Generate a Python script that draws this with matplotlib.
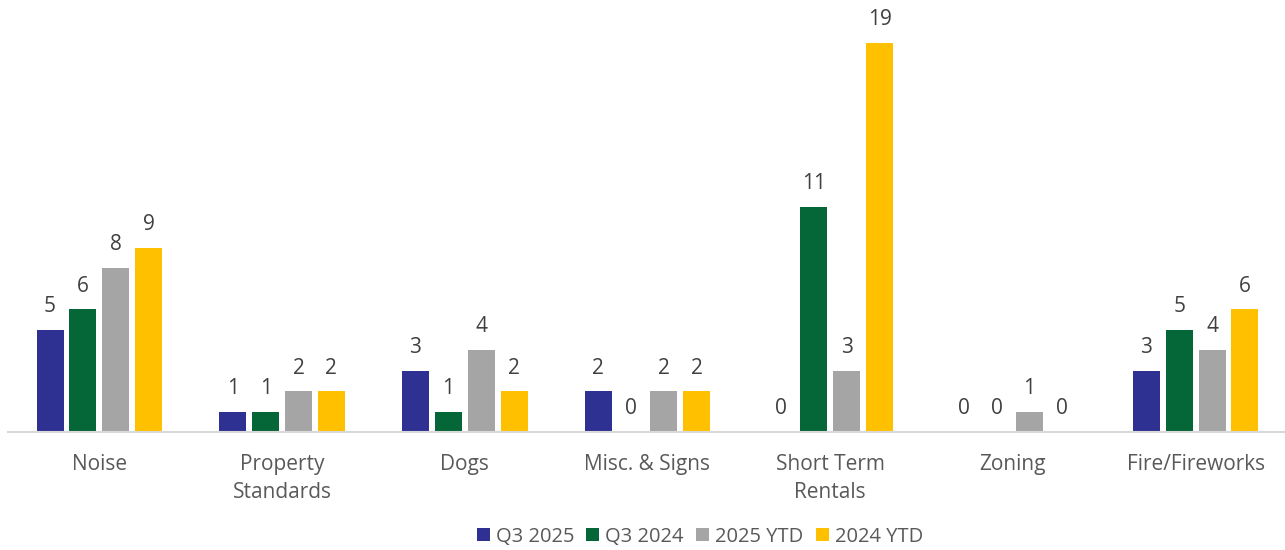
import matplotlib.pyplot as plt
import numpy as np

# data
categories = ['Noise', 'Property\nStandards', 'Dogs', 'Misc. & Signs',
              'Short Term\nRentals', 'Zoning', 'Fire/Fireworks']
series_names = ['Q3 2025', 'Q3 2024', '2025 YTD', '2024 YTD']
q3_2025 = [5, 1, 3, 2, 0, 0, 3]
q3_2024 = [6, 1, 1, 0, 11, 0, 5]
ytd_2025 = [8, 2, 4, 2, 3, 1, 4]
ytd_2024 = [9, 2, 2, 2, 19, 0, 6]

colors = ['#2E3192', '#056637', '#A5A5A5', '#FFC000']

plt.rcParams['font.family'] = ['Open Sans', 'DejaVu Sans']

fig = plt.figure(figsize=(12.85, 5.5), dpi=100)
ax = fig.add_axes([8 / 1285, 118 / 550, 1279 / 1285, 410 / 550])

x = np.arange(len(categories))
width = 0.148
step = 0.18
all_series = [q3_2025, q3_2024, ytd_2025, ytd_2024]

for i, (vals, name, c) in enumerate(zip(all_series, series_names, colors)):
    pos = x + (i - 1.5) * step
    rects = ax.bar(pos, vals, width, color=c, label=name, zorder=2)
    for r, v in zip(rects, vals):
        ax.annotate(str(v), xy=(r.get_x() + r.get_width() / 2, v),
                    xytext=(0, 9), textcoords='offset points',
                    ha='center', va='bottom', fontsize=15, color='#404040')

ax.set_xlim(-0.5, len(categories) - 0.5)
ax.set_ylim(0, 20)
ax.set_xticks(x)
ax.set_xticklabels(categories, fontsize=15, color='#595959', linespacing=1.4)
ax.tick_params(axis='x', length=0, pad=16)
ax.set_yticks([])
for s in ['top', 'right', 'left']:
    ax.spines[s].set_visible(False)
ax.spines['bottom'].set_color('#D9D9D9')
ax.spines['bottom'].set_linewidth(1.5)

ax.legend(loc='center', bbox_to_anchor=(703 / 1285 - 8 / 1285, -0.255), ncol=4,
          frameon=False, fontsize=14.5, handlelength=0.65, handleheight=0.65,
          handletextpad=0.3, columnspacing=0.6, labelcolor='#595959')

fig.savefig('out.png', dpi=100)
